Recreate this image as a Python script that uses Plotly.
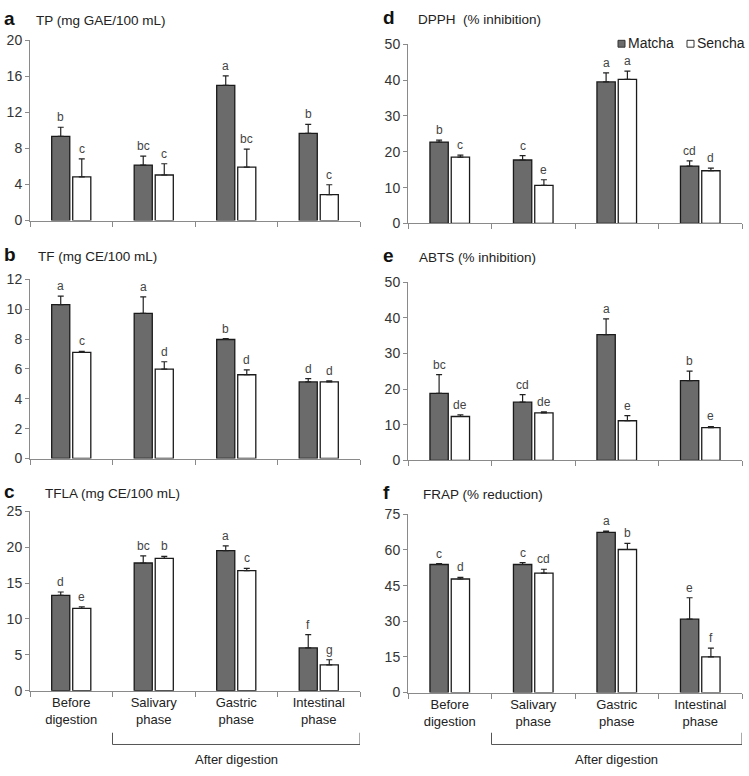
import plotly.graph_objects as go
from plotly.subplots import make_subplots

phases = ["Before<br>digestion", "Salivary<br>phase", "Gastric<br>phase", "Intestinal<br>phase"]
series_names = ["Matcha", "Sencha"]

# panel a - TP
tp_matcha = [9.35, 6.15, 15.0, 9.67]
tp_matcha_err = [1.0, 1.0, 1.05, 1.0]
tp_sencha = [4.84, 5.05, 5.93, 2.87]
tp_sencha_err = [2.0, 1.25, 2.0, 1.1]
tp_letters = [["b", "bc", "a", "b"], ["c", "c", "bc", "c"]]

# panel b - TF
tf_matcha = [10.3, 9.72, 7.97, 5.13]
tf_matcha_err = [0.57, 1.1, 0.06, 0.22]
tf_sencha = [7.1, 5.98, 5.61, 5.13]
tf_sencha_err = [0.08, 0.5, 0.33, 0.07]
tf_letters = [["a", "a", "b", "d"], ["c", "d", "d", "d"]]

# panel c - TFLA
tfla_matcha = [13.3, 17.8, 19.54, 5.96]
tfla_matcha_err = [0.46, 1.0, 0.64, 1.84]
tfla_sencha = [11.47, 18.44, 16.74, 3.58]
tfla_sencha_err = [0.23, 0.28, 0.32, 0.73]
tfla_letters = [["d", "bc", "a", "f"], ["e", "b", "c", "g"]]

# panel d - DPPH
dpph_matcha = [22.7, 17.7, 39.5, 16.0]
dpph_matcha_err = [0.55, 1.2, 2.5, 1.45]
dpph_sencha = [18.5, 10.6, 40.2, 14.7]
dpph_sencha_err = [0.55, 1.6, 2.3, 0.75]
dpph_letters = [["b", "c", "a", "cd"], ["c", "e", "a", "d"]]

# panel e - ABTS
abts_matcha = [18.8, 16.36, 35.3, 22.4]
abts_matcha_err = [5.3, 2.1, 4.4, 2.65]
abts_sencha = [12.34, 13.35, 11.15, 9.23]
abts_sencha_err = [0.45, 0.3, 1.45, 0.3]
abts_letters = [["bc", "cd", "a", "b"], ["de", "de", "e", "e"]]

# panel f - FRAP
frap_matcha = [53.9, 53.9, 67.4, 30.9]
frap_matcha_err = [0.4, 0.8, 0.55, 9.0]
frap_sencha = [47.8, 50.3, 60.2, 15.05]
frap_sencha_err = [0.7, 1.6, 2.6, 3.7]
frap_letters = [["c", "c", "a", "e"], ["d", "cd", "b", "f"]]

FONT = "Liberation Sans, Arial, sans-serif"
MATCHA = "#6b6b6b"
EDGE = "#1a1a1a"
AXIS = "#8a8a8a"
BARGAP = 0.49
GROUPGAP = 0.14
OFF = (1 - BARGAP) / 4

panels = [
    ("a", "TP (mg GAE/100 mL)", 1, 1, 20, 4, tp_matcha, tp_matcha_err, tp_sencha, tp_sencha_err, tp_letters),
    ("d", "DPPH  (% inhibition)", 1, 2, 50, 10, dpph_matcha, dpph_matcha_err, dpph_sencha, dpph_sencha_err, dpph_letters),
    ("b", "TF (mg CE/100 mL)", 2, 1, 12, 2, tf_matcha, tf_matcha_err, tf_sencha, tf_sencha_err, tf_letters),
    ("e", "ABTS (% inhibition)", 2, 2, 50, 10, abts_matcha, abts_matcha_err, abts_sencha, abts_sencha_err, abts_letters),
    ("c", "TFLA (mg CE/100 mL)", 3, 1, 25, 5, tfla_matcha, tfla_matcha_err, tfla_sencha, tfla_sencha_err, tfla_letters),
    ("f", "FRAP (% reduction)", 3, 2, 75, 15, frap_matcha, frap_matcha_err, frap_sencha, frap_sencha_err, frap_letters),
]

# plot-area edges in px
H = 776
W = 749
ydoms = {"a": (33, 217), "d": (37, 220), "b": (277, 460), "e": (280, 462), "c": (514, 697), "f": (517, 699)}
xdoms = {1: (30, 360), 2: (408, 742)}
label_y = {"a": 11, "d": 10, "b": 252, "e": 253, "c": 494, "f": 495}
label_x = {1: 2, 2: 381}
title_x = {"a": 34, "b": 36, "c": 43, "d": 416, "e": 417, "f": 421}

fig = make_subplots(rows=3, cols=2)

for i, (lab, title, r, c, ymax, dt, m, me, s, se, letters) in enumerate(panels):
    fig.add_trace(go.Bar(
        x=phases, y=m, name=series_names[0], showlegend=False,
        marker=dict(color=MATCHA, line=dict(color=EDGE, width=1.3)),
        error_y=dict(type="data", array=me, arrayminus=[0] * 4, symmetric=False,
                     color="#222", thickness=1.2, width=3),
    ), row=r, col=c)
    fig.add_trace(go.Bar(
        x=phases, y=s, name=series_names[1], showlegend=False,
        marker=dict(color="white", line=dict(color=EDGE, width=1.3)),
        error_y=dict(type="data", array=se, arrayminus=[0] * 4, symmetric=False,
                     color="#222", thickness=1.2, width=3),
    ), row=r, col=c)

    t, b = ydoms[lab]
    x0, x1 = xdoms[c]
    fig.update_yaxes(domain=[1 - b / H, 1 - t / H], range=[0, ymax], dtick=dt,
                     showline=True, linecolor=AXIS, linewidth=1, ticks="outside",
                     ticklen=4, tickcolor=AXIS, showgrid=False, zeroline=False,
                     tickfont=dict(size=14, color="#333"), row=r, col=c)
    fig.update_xaxes(domain=[x0 / W, x1 / W], range=[-0.5, 3.5],
                     showline=True, linecolor=AXIS, linewidth=1, ticks="outside",
                     tickson="boundaries", ticklen=5, tickcolor=AXIS, showgrid=False,
                     showticklabels=(r == 3), tickfont=dict(size=13, color="#222"),
                     row=r, col=c)

    xref = "x" if i == 0 else "x%d" % (i + 1)
    yref = "y" if i == 0 else "y%d" % (i + 1)
    # significance letters
    for k in range(4):
        for j, (vals, errs) in enumerate([(m, me), (s, se)]):
            fig.add_annotation(x=k + (-OFF if j == 0 else OFF), y=vals[k] + errs[k],
                               xref=xref, yref=yref, text=letters[j][k], showarrow=False,
                               yanchor="bottom", yshift=1,
                               font=dict(size=12, color="#444"))

    # panel letter and title
    fig.add_annotation(x=label_x[c] / W, y=1 - label_y[lab] / H, xref="paper", yref="paper",
                       text="<b>%s</b>" % lab, showarrow=False, xanchor="left", yanchor="middle",
                       font=dict(size=19, color="#111"))
    fig.add_annotation(x=title_x[lab] / W, y=1 - (label_y[lab] + 2) / H, xref="paper", yref="paper",
                       text=title, showarrow=False, xanchor="left", yanchor="middle",
                       font=dict(size=13.5, color="#222"))

    if r == 3:
        yb = 1 - 752 / H
        yt = 1 - 740 / H
        for xa, xb, ya, yb2 in [(0.5, 0.5, yt, yb), (0.5, 3.5, yb, yb), (3.5, 3.5, yb, yt)]:
            fig.add_shape(type="line", xref=xref, yref="paper", x0=xa, x1=xb, y0=ya, y1=yb2,
                          line=dict(color="#555", width=1))
        fig.add_annotation(x=2, y=1 - 767 / H, xref=xref, yref="paper", text="After digestion",
                           showarrow=False, yanchor="middle", font=dict(size=13, color="#222"))

# legend swatches in panel d
for nm, fill, sx, tx in [(series_names[0], MATCHA, 618, 626), (series_names[1], "white", 687, 695)]:
    fig.add_shape(type="rect", xref="paper", yref="paper", x0=sx / W, x1=(sx + 7) / W,
                  y0=1 - 40 / H, y1=1 - 33 / H, fillcolor=fill, line=dict(color="#333", width=1))
    fig.add_annotation(x=tx / W, y=1 - 36 / H, xref="paper", yref="paper", text=nm,
                       showarrow=False, xanchor="left", yanchor="middle",
                       font=dict(size=14, color="#222"))

fig.update_layout(
    width=W, height=H,
    margin=dict(l=0, r=0, t=0, b=0),
    barmode="group", bargap=BARGAP, bargroupgap=GROUPGAP,
    plot_bgcolor="white", paper_bgcolor="white",
    font=dict(family=FONT),
    showlegend=False,
)

fig.write_html("out.html", config={"displayModeBar": False},
               post_script="document.body.style.margin='0';")
